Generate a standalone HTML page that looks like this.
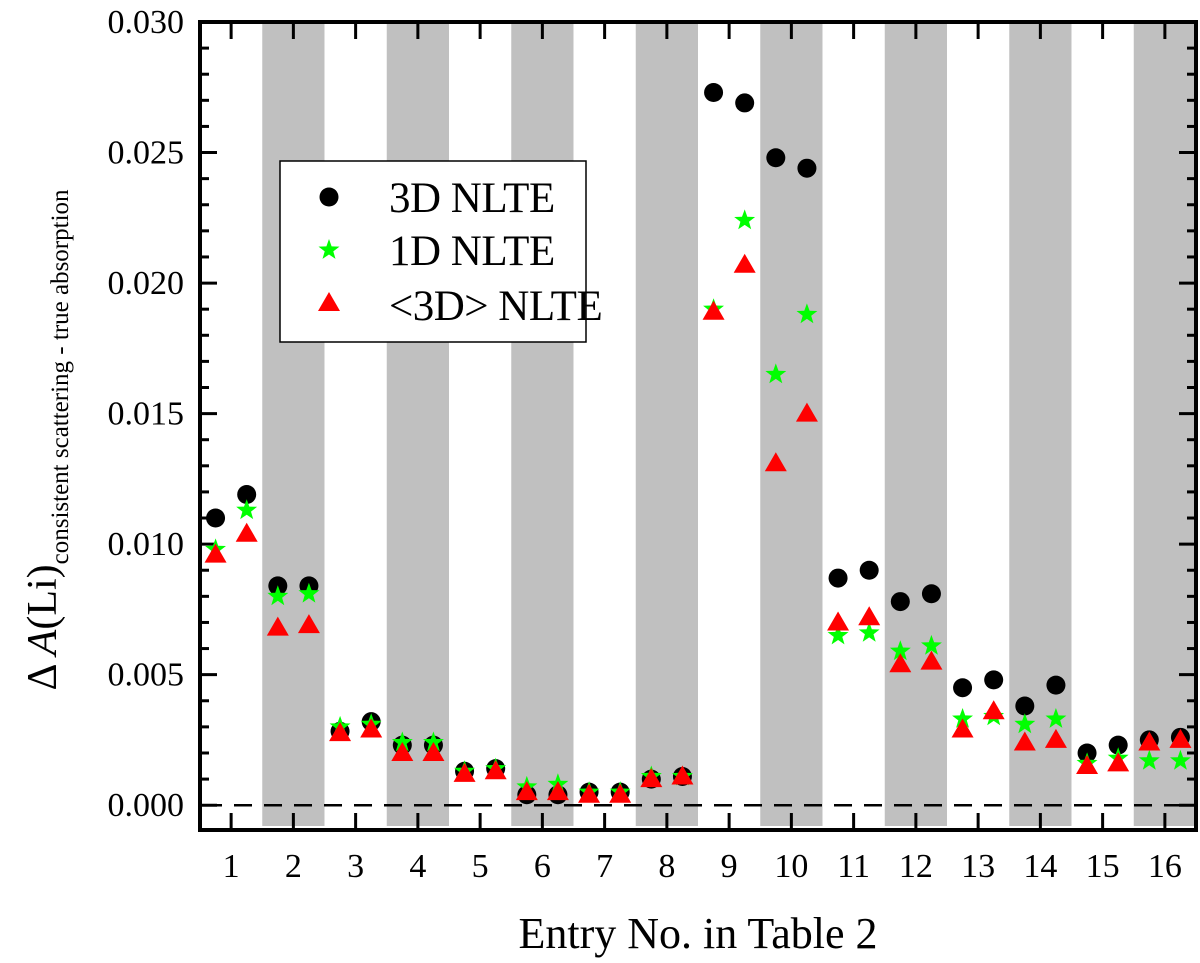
<!DOCTYPE html>
<html><head><meta charset="utf-8"><style>
html,body{margin:0;padding:0;background:#fff;}
svg{display:block;font-family:"Liberation Serif",serif;}
</style></head><body>
<svg id="chart" width="1200" height="963" viewBox="0 0 1200 963"></svg>
<script>
const entries=[1,2,3,4,5,6,7,8,9,10,11,12,13,14,15,16];
const nlte3dLeft=[0.0110,0.0084,0.00283,0.0023,0.0013,0.0004,0.0005,0.0010,0.0273,0.0248,0.0087,0.0078,0.0045,0.0038,0.0020,0.0025];
const nlte3dRight=[0.0119,0.0084,0.0032,0.0023,0.0014,0.0004,0.0005,0.0011,0.0269,0.0244,0.0090,0.0081,0.0048,0.0046,0.0023,0.0026];
const nlte1dLeft=[0.0098,0.0080,0.0030,0.0024,0.0013,0.0007,0.0005,0.0011,0.0190,0.0165,0.0065,0.0059,0.0033,0.0031,0.0016,0.0017];
const nlte1dRight=[0.0113,0.0081,0.0031,0.0024,0.0014,0.0008,0.0005,0.0011,0.0224,0.0188,0.0066,0.0061,0.0034,0.0033,0.0018,0.0017];
const avg3dLeft=[0.0096,0.0068,0.00276,0.0020,0.0012,0.0005,0.0004,0.0010,0.0189,0.0131,0.0070,0.0054,0.0029,0.0024,0.0015,0.0024];
const avg3dRight=[0.0104,0.0069,0.0029,0.0020,0.0013,0.0005,0.0004,0.0011,0.0207,0.0150,0.0072,0.0055,0.0036,0.0025,0.0016,0.0025];
const yTicks=[0,0.005,0.010,0.015,0.020,0.025,0.030];
const yTickLabels=["0.000","0.005","0.010","0.015","0.020","0.025","0.030"];

const NS="http://www.w3.org/2000/svg";
const svg=document.getElementById('chart');
const L=200,R=1196,T=22,B=830;
const xMin=0.5,xMax=16.5,yMin=-0.00095,yMax=0.030;
const X=v=>L+(v-xMin)/(xMax-xMin)*(R-L);
const Y=v=>B-(v-yMin)/(yMax-yMin)*(B-T);
function mk(tag,attrs,parent){const e=document.createElementNS(NS,tag);for(const k in attrs)e.setAttribute(k,attrs[k]);(parent||svg).appendChild(e);return e;}

const bands=mk('g',{});


entries.forEach(e=>{if(e%2===0){const r=mk('rect',{x:X(e-0.5),y:T,width:X(e+0.5)-X(e-0.5),height:B-T-4,fill:'#c0c0c0'},bands);

}});

const zl=mk('line',{x1:L+4,x2:R,y1:Y(0),y2:Y(0),stroke:'#000','stroke-width':2.5,'stroke-dasharray':'18,12'});



const ax=mk('g',{});


yTicks.forEach((t,i)=>{
 mk('line',{x1:L,x2:L+17,y1:Y(t),y2:Y(t),stroke:'#000','stroke-width':3},ax);
 mk('line',{x1:R,x2:R-17,y1:Y(t),y2:Y(t),stroke:'#000','stroke-width':3},ax);
 if(i<yTicks.length-1){for(let k=1;k<5;k++){const m=t+0.001*k;
 mk('line',{x1:L,x2:L+9,y1:Y(m),y2:Y(m),stroke:'#000','stroke-width':3},ax);
 mk('line',{x1:R,x2:R-9,y1:Y(m),y2:Y(m),stroke:'#000','stroke-width':3},ax);}}
 const tx=mk('text',{x:L-16,y:Y(t)+11,'text-anchor':'end','font-size':34},ax);tx.textContent=yTickLabels[i];
 
 
});
entries.forEach(e=>{
 mk('line',{x1:X(e),x2:X(e),y1:B,y2:B-17,stroke:'#000','stroke-width':3},ax);
 mk('line',{x1:X(e),x2:X(e),y1:T,y2:T+17,stroke:'#000','stroke-width':3},ax);
 const tx=mk('text',{x:X(e),y:877,'text-anchor':'middle','font-size':34},ax);tx.textContent=e;
 
 
});
mk('rect',{x:L,y:T,width:R-L,height:B-T,fill:'none',stroke:'#000','stroke-width':4},ax);

function circle(x,y,g){mk('circle',{cx:x,cy:y,r:9.5,fill:'#000'},g);}
function star(x,y,g){let p=[];for(let i=0;i<10;i++){const a=-Math.PI/2+i*Math.PI/5,r=i%2?4.5:11;p.push((x+r*Math.cos(a)).toFixed(1)+','+(y+r*Math.sin(a)).toFixed(1));}mk('polygon',{points:p.join(' '),fill:'#00ff00'},g);}
function tri(x,y,g){mk('polygon',{points:`${x-11},${y+8} ${x+11},${y+8} ${x},${y-11}`,fill:'#ff0000'},g);}
function series(name,lv,rv,fn){const g=mk('g',{});
 
 
 entries.forEach((e,i)=>{fn(X(e-0.25),Y(lv[i]),g);fn(X(e+0.25),Y(rv[i]),g);});}
series('series-3d-nlte',nlte3dLeft,nlte3dRight,circle);
series('series-1d-nlte',nlte1dLeft,nlte1dRight,star);
series('series-avg3d-nlte',avg3dLeft,avg3dRight,tri);

const lg=mk('g',{});


mk('rect',{x:280,y:161,width:306,height:181,fill:'#fff',stroke:'#000','stroke-width':1.5},lg);
circle(329,197,lg);star(329,250,lg);tri(329,303,lg);
[['3D NLTE',212],['1D NLTE',265],['<3D> NLTE',320]].forEach(([t,y])=>{const tx=mk('text',{x:389,y:y,'font-size':43,'letter-spacing':'-0.5'},lg);tx.textContent=t;
 
 });

const xt=mk('text',{x:698,y:948,'text-anchor':'middle','font-size':44});xt.textContent='Entry No. in Table 2';


const yt=mk('text',{transform:'translate(56,440) rotate(-90)','text-anchor':'middle','font-size':42});
yt.innerHTML='Δ <tspan font-style="italic">A</tspan>(Li)<tspan font-size="25" dy="12">consistent scattering - true absorption</tspan>';


</script>
</body></html>
